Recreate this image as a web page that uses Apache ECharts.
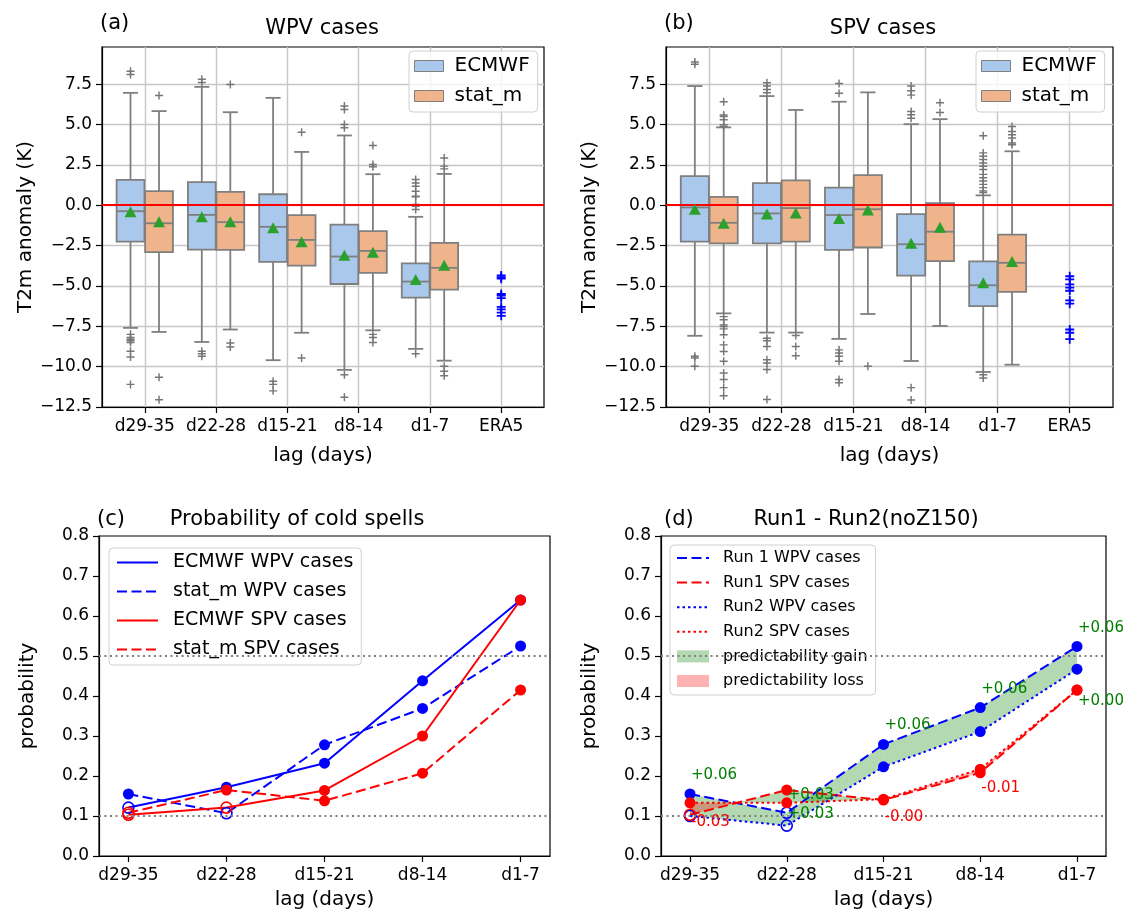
<!DOCTYPE html>
<html>
<head>
<meta charset="utf-8">
<script src="https://cdn.jsdelivr.net/npm/echarts@6/dist/echarts.min.js"></script>
<style>
  html, body { margin: 0; padding: 0; background: #fff; }
  #chart { width: 1124px; height: 919px; }
</style>
</head>
<body>
<div id="chart"></div>
<script>
// ---------- data ----------
var lags = ['d29-35', 'd22-28', 'd15-21', 'd8-14', 'd1-7'];
var boxLabels = ['d29-35', 'd22-28', 'd15-21', 'd8-14', 'd1-7', 'ERA5'];
var boxTicks = [-12.5, -10, -7.5, -5, -2.5, 0, 2.5, 5, 7.5];

// box stats per lag: [whisker low, q1, median, q3, whisker high]
var wpvEcmwfStats = [[-7.6, -2.25, -0.37, 1.57, 6.96], [-8.47, -2.75, -0.6, 1.43, 7.33], [-9.6, -3.51, -1.34, 0.68, 6.65], [-10.2, -4.88, -3.18, -1.2, 4.32], [-8.9, -5.72, -4.73, -3.6, -0.72]];
var wpvEcmwfMean = [-0.4, -0.72, -1.4, -3.1, -4.6];
var wpvEcmwfOutliers = [[8.3, 8.1, -8.0, -8.2, -8.3, -8.4, -8.5, -9.05, -9.4, -11.1], [7.8, 7.6, -9.05, -9.2, -9.36], [-10.9, -11.1, -11.5], [6.14, 5.93, 5.0, 4.8, -10.5, -11.9], [1.59, 1.38, 1.18, 0.87, 0.56, 0.52, 0.04, -0.06, -0.27, -9.2]];
var wpvStatStats = [[-7.85, -2.91, -1.12, 0.87, 5.83], [-7.7, -2.77, -1.05, 0.83, 5.76], [-7.9, -3.74, -2.15, -0.62, 3.3], [-7.75, -4.19, -2.83, -1.61, 1.92], [-9.63, -5.23, -3.88, -2.33, 1.94]];
var wpvStatMean = [-1.03, -1.03, -2.27, -2.91, -3.72];
var wpvStatOutliers = [[6.8, -10.66, -12.05], [7.48, -8.53, -8.78], [4.52, -9.46], [3.7, 2.52, 2.38, -8.0, -8.2, -8.5], [2.93, 2.42, 2.25, -9.98, -10.29, -10.56]];
var wpvEra5 = [-4.35, -4.45, -4.55, -5.5, -5.6, -5.75, -6.3, -6.45, -6.65, -6.85];

var spvEcmwfStats = [[-8.09, -2.25, -0.14, 1.8, 7.38], [-7.89, -2.36, -0.51, 1.37, 6.76], [-8.28, -2.77, -0.61, 1.09, 6.41], [-9.65, -4.36, -2.42, -0.55, 5.02], [-10.33, -6.25, -4.96, -3.48, 0.61]];
var spvEcmwfMean = [-0.25, -0.55, -0.82, -2.36, -4.8];
var spvEcmwfOutliers = [[8.87, 8.73, -9.36, -9.47, -9.98], [7.58, 7.38, 7.17, 6.97, -8.24, -8.4, -8.75, -9.57, -9.77, -10.18, -12.03], [7.54, 6.93, -8.96, -9.16, -9.36, -9.67, -10.8, -11.0], [7.38, 7.09, 6.82, 5.8, 5.6, 5.39, -11.3, -12.07], [4.3, 3.24, 3.03, 2.83, 2.62, 2.41, 2.21, 1.91, 1.7, 1.5, 1.29, 1.09, 0.88, 0.78, -10.5, -10.7]];
var spvStatStats = [[-6.7, -2.36, -1.09, 0.51, 4.82], [-7.89, -2.25, -0.18, 1.54, 5.9], [-6.74, -2.62, -0.25, 1.86, 6.99], [-7.48, -3.46, -1.64, 0.12, 5.33], [-9.88, -5.37, -3.57, -1.82, 3.34]];
var spvStatMean = [-1.11, -0.49, -0.29, -1.37, -3.48];
var spvStatOutliers = [[6.41, 5.59, 5.49, 5.29, 4.98, 4.88, -6.9, -7.1, -7.42, -7.52, -7.66, -8.03, -8.65, -9.06, -9.67, -10.39, -10.8, -11.3, -11.8], [-8.07, -8.75, -9.32], [-9.98], [6.35, 5.74], [4.88, 4.57, 4.36, 4.16, 3.85, 3.75]];
var spvEra5 = [-4.4, -4.6, -4.9, -5.1, -5.3, -5.9, -6.1, -7.7, -7.9, -8.3];

// probability of cold spells (c)
var ecmwfWpv = [0.121, 0.172, 0.232, 0.438, 0.64];
var ecmwfWpvSig = [false, true, true, true, true];
var statWpv = [0.155, 0.107, 0.278, 0.369, 0.525];
var statWpvSig = [true, false, true, true, true];
var ecmwfSpv = [0.103, 0.121, 0.164, 0.30, 0.64];
var ecmwfSpvSig = [false, false, true, true, true];
var statSpv = [0.108, 0.165, 0.138, 0.207, 0.415];
var statSpvSig = [false, true, true, true, true];

// run1 - run2 (d)
var run1Wpv = [0.155, 0.108, 0.279, 0.371, 0.524];
var run1WpvSig = [true, false, true, true, true];
var run1Spv = [0.103, 0.165, 0.14, 0.208, 0.415];
var run1SpvSig = [false, true, true, true, true];
var run2Wpv = [0.10, 0.076, 0.223, 0.311, 0.467];
var run2WpvSig = [false, false, true, true, true];
var run2Spv = [0.133, 0.133, 0.142, 0.217, 0.415];
var run2SpvSig = [true, true, true, true, true];
var wpvDiffText = ['+0.06', '+0.03', '+0.06', '+0.06', '+0.06'];
var wpvDiffY = [0.201, 0.104, 0.3275, 0.4175, 0.569];
var spvDiffText = ['-0.03', '+0.03', '-0.00', '-0.01', '+0.00'];
var spvDiffY = [0.084, 0.1525, 0.097, 0.169, 0.3875];

// ---------- style ----------
var FONT = 'DejaVu Sans';
var boxEdge = '#7f7f7f';
var blueFill = '#aac8ec';
var orangeFill = '#efb48c';
var meanGreen = '#2ca02c';
var plusPath = 'path://M4,0H6V4H10V6H6V10H4V6H0V4H4Z';
var plusThin = 'path://M4.1,0H5.9V4.1H10V5.9H5.9V10H4.1V5.9H0V4.1H4.1Z';
var dashed = [10, 4.5];
var dotted = [2.5, 3];

function minus(v, d) {
  var s = Math.abs(v).toFixed(d);
  return v < 0 ? '\u2212' + s : s;
}

function boxSeries(name, stats, off, fill, idx) {
  return {
    type: 'custom', name: name, xAxisIndex: idx, yAxisIndex: idx, z: 2, silent: true,
    data: stats.map(function (s, i) { return [i + off].concat(s); }),
    encode: { x: 0, y: [1, 2, 3, 4, 5] },
    renderItem: function (params, api) {
      var cx = api.value(0);
      var bw = api.size([0.39, 0])[0];
      var low = api.coord([cx, api.value(1)]);
      var q1 = api.coord([cx, api.value(2)]);
      var med = api.coord([cx, api.value(3)]);
      var q3 = api.coord([cx, api.value(4)]);
      var high = api.coord([cx, api.value(5)]);
      var x = low[0];
      var cap = bw * 0.27;
      var ls = { stroke: boxEdge, lineWidth: 1.8 };
      return {
        type: 'group',
        children: [
          { type: 'line', shape: { x1: x, y1: q1[1], x2: x, y2: low[1] }, style: ls },
          { type: 'line', shape: { x1: x, y1: q3[1], x2: x, y2: high[1] }, style: ls },
          { type: 'line', shape: { x1: x - cap, y1: low[1], x2: x + cap, y2: low[1] }, style: ls },
          { type: 'line', shape: { x1: x - cap, y1: high[1], x2: x + cap, y2: high[1] }, style: ls },
          { type: 'rect', shape: { x: x - bw / 2, y: q3[1], width: bw, height: q1[1] - q3[1] },
            style: { fill: fill, stroke: boxEdge, lineWidth: 1.8 } },
          { type: 'line', shape: { x1: x - bw / 2, y1: med[1], x2: x + bw / 2, y2: med[1] }, style: ls }
        ]
      };
    }
  };
}

function outlierSeries(lists, off, idx, withZeroLine) {
  var data = [];
  lists.forEach(function (list, i) {
    list.forEach(function (v) { data.push([i + off, v]); });
  });
  var s = {
    type: 'scatter', xAxisIndex: idx, yAxisIndex: idx, z: 3, silent: true,
    symbol: plusThin, symbolSize: 8,
    itemStyle: { color: '#767676', opacity: 1 },
    data: data
  };
  if (withZeroLine) {
    s.markLine = {
      silent: true, symbol: 'none', label: { show: false },
      lineStyle: { color: '#ff0000', width: 2, type: 'solid' },
      data: [{ yAxis: 0 }]
    };
  }
  return s;
}

function meanSeries(means, off, idx) {
  return {
    type: 'scatter', xAxisIndex: idx, yAxisIndex: idx, z: 5, silent: true,
    symbol: 'triangle', symbolSize: [12, 11],
    itemStyle: { color: meanGreen, opacity: 1 },
    data: means.map(function (v, i) { return [i + off, v]; })
  };
}

function era5Series(vals, idx) {
  return {
    type: 'scatter', xAxisIndex: idx, yAxisIndex: idx, z: 4, silent: true,
    symbol: plusPath, symbolSize: 9,
    itemStyle: { color: '#0000ff', opacity: 1 },
    data: vals.map(function (v) { return [5, v]; })
  };
}

function lineSeries(name, vals, color, type, idx) {
  return {
    type: 'line', name: name, xAxisIndex: idx, yAxisIndex: idx, z: 3, silent: true,
    symbol: 'none', animation: false,
    lineStyle: { color: color, width: 2, type: type },
    itemStyle: { color: color },
    data: vals.map(function (v, i) { return [i, v]; })
  };
}

function markerSeries(vals, sig, color, idx) {
  return {
    type: 'scatter', xAxisIndex: idx, yAxisIndex: idx, z: 4, silent: true,
    symbol: 'circle', symbolSize: 11,
    data: vals.map(function (v, i) {
      return {
        value: [i, v],
        itemStyle: sig[i]
          ? { color: color, opacity: 1 }
          : { color: 'rgba(255,255,255,0)', borderColor: color, borderWidth: 1.6, opacity: 1 }
      };
    })
  };
}

function refLines(idx) {
  return {
    type: 'line', xAxisIndex: idx, yAxisIndex: idx, z: 1, silent: true, data: [],
    markLine: {
      silent: true, symbol: 'none', label: { show: false },
      lineStyle: { color: '#808080', width: 2, type: [2, 3.5] },
      data: [{ yAxis: 0.1 }, { yAxis: 0.5 }]
    }
  };
}

// polygons between two curves, split where they cross
function diffPolygons(a, b) {
  var gain = [], loss = [];
  for (var i = 0; i < a.length - 1; i++) {
    var d0 = a[i] - b[i], d1 = a[i + 1] - b[i + 1];
    if (d0 * d1 >= 0) {
      var poly = [[i, a[i]], [i + 1, a[i + 1]], [i + 1, b[i + 1]], [i, b[i]]];
      (d0 + d1 >= 0 ? gain : loss).push(poly);
    } else {
      var t = d0 / (d0 - d1);
      var xc = i + t, yc = a[i] + t * (a[i + 1] - a[i]);
      (d0 > 0 ? gain : loss).push([[i, a[i]], [xc, yc], [i, b[i]]]);
      (d1 > 0 ? gain : loss).push([[xc, yc], [i + 1, a[i + 1]], [i + 1, b[i + 1]]]);
    }
  }
  return { gain: gain, loss: loss };
}

function fillSeries(name, polys, color, idx) {
  return {
    type: 'custom', name: name, xAxisIndex: idx, yAxisIndex: idx, z: 2, silent: true,
    itemStyle: { color: color },
    data: polys.map(function (p, k) { return [p[0][0], p[0][1], k]; }),
    renderItem: function (params, api) {
      var pts = polys[params.dataIndex].map(function (p) { return api.coord(p); });
      return { type: 'polygon', shape: { points: pts }, style: { fill: color } };
    }
  };
}

function labelSeries(texts, ys, idx) {
  return {
    type: 'custom', xAxisIndex: idx, yAxisIndex: idx, z: 6, silent: true,
    data: ys.map(function (v, i) { return [i, v]; }),
    renderItem: function (params, api) {
      var p = api.coord([api.value(0), api.value(1)]);
      var txt = texts[params.dataIndex];
      return {
        type: 'text', x: p[0] + 1, y: p[1],
        style: { text: txt, fill: txt.charAt(0) === '+' ? '#008000' : '#ff0000', fontSize: 15,
                 fontFamily: FONT, align: 'left', verticalAlign: 'middle' }
      };
    }
  };
}

// ---------- axes ----------
var axisText = { fontFamily: FONT, fontSize: 17, color: '#000' };
var nameText = { fontFamily: FONT, fontSize: 20, color: '#000' };
var blackLine = { onZero: false, lineStyle: { color: '#000', width: 1.2 } };
var gridLine = { show: true, lineStyle: { color: '#c6c6c6', width: 1.4 } };

function boxXAxis(idx) {
  return {
    type: 'value', gridIndex: idx, min: -0.6, max: 5.6,
    name: 'lag (days)', nameLocation: 'middle', nameGap: 39, nameTextStyle: nameText,
    axisLine: blackLine,
    axisTick: { show: true, length: 6, customValues: [0, 1, 2, 3, 4, 5], lineStyle: { color: '#000', width: 1.2 } },
    axisLabel: Object.assign({ margin: 11, customValues: [0, 1, 2, 3, 4, 5],
      formatter: function (v) { return boxLabels[Math.round(v)]; } }, axisText),
    splitLine: gridLine
  };
}
function boxYAxis(idx) {
  return {
    type: 'value', gridIndex: idx, min: -12.5, max: 9.8,
    name: 'T2m anomaly (K)', nameLocation: 'middle', nameGap: 62, nameTextStyle: nameText,
    axisLine: blackLine,
    axisTick: { show: true, length: 6, customValues: boxTicks, lineStyle: { color: '#000', width: 1.2 } },
    axisLabel: Object.assign({ margin: 10, customValues: boxTicks,
      formatter: function (v) { return minus(v, 1); } }, axisText),
    splitLine: gridLine
  };
}
function probXAxis(idx) {
  return {
    type: 'value', gridIndex: idx, min: -0.3, max: 4.3,
    name: 'lag (days)', nameLocation: 'middle', nameGap: 34, nameTextStyle: nameText,
    axisLine: blackLine,
    axisTick: { show: true, length: 6, customValues: [0, 1, 2, 3, 4], lineStyle: { color: '#000', width: 1.2 } },
    axisLabel: Object.assign({ margin: 11, customValues: [0, 1, 2, 3, 4],
      formatter: function (v) { return lags[Math.round(v)]; } }, axisText),
    splitLine: { show: false }
  };
}
function probYAxis(idx) {
  return {
    type: 'value', gridIndex: idx, min: 0, max: 0.8, interval: 0.1,
    name: 'probability', nameLocation: 'middle', nameGap: 61, nameTextStyle: nameText,
    axisLine: blackLine,
    axisTick: { show: true, length: 6, lineStyle: { color: '#000', width: 1.2 } },
    axisLabel: Object.assign({ margin: 10, formatter: function (v) { return v.toFixed(1); } }, axisText),
    splitLine: { show: false }
  };
}

function legendBox(cfg) {
  return Object.assign({
    orient: 'vertical', selectedMode: false,
    backgroundColor: 'rgba(255,255,255,0.8)', borderColor: '#d0d0d0', borderWidth: 1, borderRadius: 4
  }, cfg);
}
function lineItem(name) {
  return { name: name, itemStyle: { opacity: 0, color: 'rgba(0,0,0,0)', borderWidth: 0 } };
}

var wpvFill = diffPolygons(run1Wpv, run2Wpv);
var spvFill = diffPolygons(run1Spv, run2Spv);

var titleStyle = { fontFamily: FONT, fontSize: 21, fontWeight: 'normal', color: '#000' };

var option = {
  animation: false,
  backgroundColor: '#fff',
  title: [
    { text: '(a)', left: 100, top: 13, padding: 0, textStyle: titleStyle },
    { text: 'WPV cases', left: 322, top: 18, padding: 0, textAlign: 'center', textStyle: titleStyle },
    { text: '(b)', left: 664, top: 13, padding: 0, textStyle: titleStyle },
    { text: 'SPV cases', left: 883, top: 18, padding: 0, textAlign: 'center', textStyle: titleStyle },
    { text: '(c)', left: 97, top: 509, padding: 0, textStyle: titleStyle },
    { text: 'Probability of cold spells', left: 297, top: 509, padding: 0, textAlign: 'center', textStyle: titleStyle },
    { text: '(d)', left: 664, top: 509, padding: 0, textStyle: titleStyle },
    { text: 'Run1 - Run2(noZ150)', left: 866, top: 509, padding: 0, textAlign: 'center', textStyle: titleStyle }
  ],
  grid: [
    { left: 102, top: 47, width: 442, height: 360, show: true, borderColor: '#000', borderWidth: 1.2, backgroundColor: '#fff' },
    { left: 666, top: 47, width: 447, height: 360, show: true, borderColor: '#000', borderWidth: 1.2, backgroundColor: '#fff' },
    { left: 99, top: 536, width: 451, height: 320, show: true, borderColor: '#000', borderWidth: 1.2, backgroundColor: '#fff' },
    { left: 661, top: 536, width: 445, height: 320, show: true, borderColor: '#000', borderWidth: 1.2, backgroundColor: '#fff' }
  ],
  xAxis: [boxXAxis(0), boxXAxis(1), probXAxis(2), probXAxis(3)],
  yAxis: [boxYAxis(0), boxYAxis(1), probYAxis(2), probYAxis(3)],
  legend: [
    legendBox({ left: 409, top: 51, padding: [5, 8, 6, 5], itemWidth: 29, itemHeight: 11, itemGap: 10,
      textStyle: { fontFamily: FONT, fontSize: 20, color: '#000', padding: [0, 0, 0, 6] },
      data: [
        { name: 'ECMWF', icon: 'rect', itemStyle: { color: blueFill, borderColor: boxEdge, borderWidth: 1 } },
        { name: 'stat_m', icon: 'rect', itemStyle: { color: orangeFill, borderColor: boxEdge, borderWidth: 1 } }
      ] }),
    legendBox({ left: 976, top: 51, padding: [5, 8, 6, 5], itemWidth: 29, itemHeight: 11, itemGap: 10,
      textStyle: { fontFamily: FONT, fontSize: 20, color: '#000', padding: [0, 0, 0, 6] },
      data: [
        { name: 'ECMWF', icon: 'rect', itemStyle: { color: blueFill, borderColor: boxEdge, borderWidth: 1 } },
        { name: 'stat_m', icon: 'rect', itemStyle: { color: orangeFill, borderColor: boxEdge, borderWidth: 1 } }
      ] }),
    legendBox({ left: 109, top: 548, padding: [5, 8, 6, 7], itemWidth: 41, itemHeight: 12, itemGap: 10,
      textStyle: { fontFamily: FONT, fontSize: 19, color: '#000', padding: [0, 0, 0, 10] },
      data: [lineItem('ECMWF WPV cases'), lineItem('stat_m WPV cases'), lineItem('ECMWF SPV cases'), lineItem('stat_m SPV cases')] }),
    legendBox({ left: 670, top: 545, padding: [5, 8, 6, 6], itemWidth: 32, itemHeight: 12, itemGap: 8.6,
      textStyle: { fontFamily: FONT, fontSize: 16, color: '#000', padding: [0, 0, 0, 9] },
      data: [lineItem('Run 1 WPV cases'), lineItem('Run1 SPV cases'), lineItem('Run2 WPV cases'), lineItem('Run2 SPV cases'),
        { name: 'predictability gain', icon: 'rect', itemStyle: { color: 'rgba(0,128,0,0.3)' } },
        { name: 'predictability loss', icon: 'rect', itemStyle: { color: 'rgba(255,0,0,0.3)' } }] })
  ],
  series: [
    // (a)
    boxSeries('ECMWF', wpvEcmwfStats, -0.2, blueFill, 0),
    boxSeries('stat_m', wpvStatStats, 0.2, orangeFill, 0),
    outlierSeries(wpvEcmwfOutliers, -0.2, 0, true),
    outlierSeries(wpvStatOutliers, 0.2, 0, false),
    meanSeries(wpvEcmwfMean, -0.2, 0),
    meanSeries(wpvStatMean, 0.2, 0),
    era5Series(wpvEra5, 0),
    // (b)
    boxSeries('ECMWF', spvEcmwfStats, -0.2, blueFill, 1),
    boxSeries('stat_m', spvStatStats, 0.2, orangeFill, 1),
    outlierSeries(spvEcmwfOutliers, -0.2, 1, true),
    outlierSeries(spvStatOutliers, 0.2, 1, false),
    meanSeries(spvEcmwfMean, -0.2, 1),
    meanSeries(spvStatMean, 0.2, 1),
    era5Series(spvEra5, 1),
    // (c)
    refLines(2),
    lineSeries('ECMWF WPV cases', ecmwfWpv, '#0000ff', 'solid', 2),
    lineSeries('stat_m WPV cases', statWpv, '#0000ff', dashed, 2),
    lineSeries('ECMWF SPV cases', ecmwfSpv, '#ff0000', 'solid', 2),
    lineSeries('stat_m SPV cases', statSpv, '#ff0000', dashed, 2),
    markerSeries(ecmwfWpv, ecmwfWpvSig, '#0000ff', 2),
    markerSeries(statWpv, statWpvSig, '#0000ff', 2),
    markerSeries(statSpv, statSpvSig, '#ff0000', 2),
    markerSeries(ecmwfSpv, ecmwfSpvSig, '#ff0000', 2),
    // (d)
    refLines(3),
    fillSeries('predictability gain', wpvFill.gain.concat(spvFill.gain), 'rgba(0,128,0,0.3)', 3),
    fillSeries('predictability loss', wpvFill.loss.concat(spvFill.loss), 'rgba(255,0,0,0.3)', 3),
    lineSeries('Run 1 WPV cases', run1Wpv, '#0000ff', dashed, 3),
    lineSeries('Run1 SPV cases', run1Spv, '#ff0000', dashed, 3),
    lineSeries('Run2 WPV cases', run2Wpv, '#0000ff', dotted, 3),
    lineSeries('Run2 SPV cases', run2Spv, '#ff0000', dotted, 3),
    markerSeries(run1Wpv, run1WpvSig, '#0000ff', 3),
    markerSeries(run2Wpv, run2WpvSig, '#0000ff', 3),
    markerSeries(run1Spv, run1SpvSig, '#ff0000', 3),
    markerSeries(run2Spv, run2SpvSig, '#ff0000', 3),
    labelSeries(wpvDiffText, wpvDiffY, 3),
    labelSeries(spvDiffText, spvDiffY, 3)
  ]
};

var chart = echarts.init(document.getElementById('chart'));
chart.setOption(option);
</script>
</body>
</html>
